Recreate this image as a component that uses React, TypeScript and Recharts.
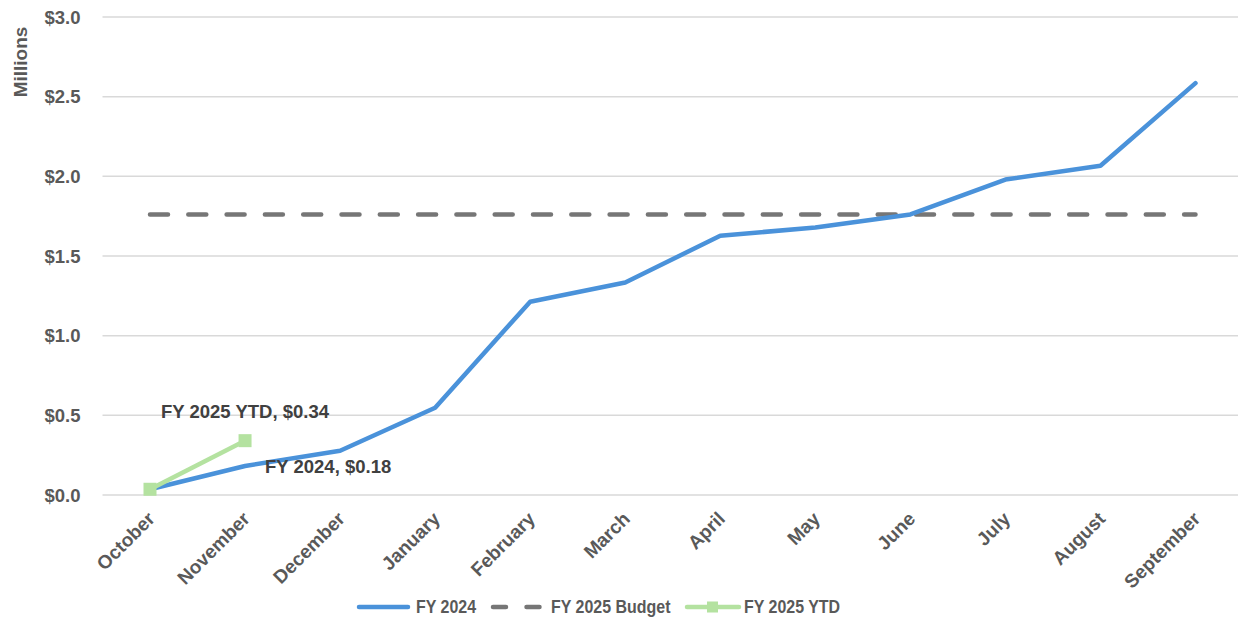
import React from "react";
import { LineChart, Line, XAxis, YAxis, CartesianGrid, Legend, LabelList } from "recharts";

const months = [
  "October", "November", "December", "January", "February", "March",
  "April", "May", "June", "July", "August", "September",
];
const fy2024 = [0.036, 0.182, 0.278, 0.548, 1.213, 1.334, 1.627, 1.679, 1.761, 1.98, 2.066, 2.585];
const fy2025Budget = [1.76, 1.76, 1.76, 1.76, 1.76, 1.76, 1.76, 1.76, 1.76, 1.76, 1.76, 1.76];
const fy2025Ytd: (number | null)[] = [0.036, 0.341, null, null, null, null, null, null, null, null, null, null];
const yTicks = [0, 0.5, 1, 1.5, 2, 2.5, 3];

const BLUE = "#4A92DA";
const GRAY = "#767676";
const GREEN = "#B4E2A0";
const TEXT = "#595959";
const FONT = "'Liberation Sans', Arial, sans-serif";

const data = months.map((m, i) => ({
  month: m,
  fy2024: fy2024[i],
  budget: fy2025Budget[i],
  ytd: fy2025Ytd[i],
}));

function MonthTick({ x, y, payload }: any) {
  const ax = x + 6;
  const ay = y + 23;
  return (
    <text
      x={ax}
      y={ay}
      textAnchor="end"
      transform={`rotate(-45, ${ax}, ${ay})`}
      fill={TEXT}
      fontFamily={FONT}
      fontWeight="bold"
      fontSize={19}
    >
      {payload.value}
    </text>
  );
}

function SquareDot({ cx, cy, index }: any) {
  if (cx == null || cy == null) return <g key={index} />;
  return <rect key={index} x={cx - 6.5} y={cy - 6.5} width={13} height={13} fill={GREEN} />;
}

function renderLegend() {
  // narrow look of the legend text: scale a normal bold font horizontally
  const text = (left: number, label: string) => (
    <span
      style={{
        position: "absolute",
        left,
        top: 0,
        lineHeight: "24px",
        whiteSpace: "nowrap",
        transform: "scaleX(0.84)",
        transformOrigin: "left center",
      }}
    >
      {label}
    </span>
  );
  const icon = (left: number, g: React.ReactNode) => (
    <svg width={60} height={24} style={{ position: "absolute", left, top: 0 }}>{g}</svg>
  );
  return (
    <div
      style={{
        position: "relative",
        height: 24,
        fontFamily: FONT,
        fontWeight: "bold",
        fontSize: 19,
        color: TEXT,
      }}
    >
      {icon(355, <line x1={4} y1={12} x2={53} y2={12} stroke={BLUE} strokeWidth={4.5} strokeLinecap="round" />)}
      {text(416, "FY 2024")}
      {icon(
        489,
        <line x1={4} y1={12} x2={52} y2={12} stroke={GRAY} strokeWidth={4.5} strokeLinecap="round" strokeDasharray="13 20.5" />,
      )}
      {text(551, "FY 2025 Budget")}
      {icon(
        683,
        <g>
          <line x1={4} y1={12} x2={56} y2={12} stroke={GREEN} strokeWidth={4.5} strokeLinecap="round" />
          <rect x={24} y={6.5} width={11} height={11} fill={GREEN} />
        </g>,
      )}
      {text(744, "FY 2025 YTD")}
    </div>
  );
}

export default function App() {
  return (
    <div style={{ position: "fixed", left: 0, top: 0, width: 1238, height: 621, overflow: "hidden", background: "#fff" }}>
      <LineChart width={1243} height={621} data={data} margin={{ top: 17, right: 0, left: 0, bottom: 2 }}>
        <CartesianGrid vertical={false} stroke="#D9D9D9" strokeWidth={1.5} />
        <XAxis
          dataKey="month"
          interval={0}
          axisLine={false}
          tickLine={false}
          tickSize={0}
          padding={{ left: 47.5, right: 47.5 }}
          height={100}
          tick={(props: any) => <MonthTick {...props} />}
        />
        <YAxis
          domain={[0, 3]}
          ticks={yTicks}
          width={102.5}
          axisLine={false}
          tickLine={false}
          tickSize={0}
          tickMargin={22}
          tickFormatter={(v: number) => `$${v.toFixed(1)}`}
          tick={{ fill: TEXT, fontFamily: FONT, fontWeight: "bold", fontSize: 18.5 }}
          label={{
            content: () => (
              <text
                x={27}
                y={62}
                textAnchor="middle"
                transform="rotate(-90, 27, 62)"
                fill={TEXT}
                fontFamily={FONT}
                fontWeight="bold"
                fontSize={19}
              >
                Millions
              </text>
            ),
          }}
        />
        <Legend verticalAlign="bottom" height={24} content={renderLegend} />
        <Line
          dataKey="budget"
          name="FY 2025 Budget"
          stroke={GRAY}
          strokeWidth={4.5}
          strokeLinecap="round"
          strokeDasharray="18 20.3"
          dot={false}
          isAnimationActive={false}
        />
        <Line
          dataKey="fy2024"
          name="FY 2024"
          stroke={BLUE}
          strokeWidth={4.5}
          strokeLinecap="round"
          strokeLinejoin="round"
          dot={false}
          isAnimationActive={false}
        >
          <LabelList
            dataKey="fy2024"
            content={(p: any) =>
              p.index === 1 ? (
                <text x={p.x + 20} y={p.y + 7} fill="#404040" fontFamily={FONT} fontWeight="bold" fontSize={18.5}>
                  {`FY 2024, $${Number(p.value).toFixed(2)}`}
                </text>
              ) : null
            }
          />
        </Line>
        <Line
          dataKey="ytd"
          name="FY 2025 YTD"
          stroke={GREEN}
          strokeWidth={4.5}
          strokeLinejoin="round"
          dot={<SquareDot />}
          isAnimationActive={false}
        >
          <LabelList
            dataKey="ytd"
            content={(p: any) =>
              p.index === 1 ? (
                <text x={p.x} y={p.y - 23} textAnchor="middle" fill="#404040" fontFamily={FONT} fontWeight="bold" fontSize={18.5}>
                  {`FY 2025 YTD, $${Number(p.value).toFixed(2)}`}
                </text>
              ) : null
            }
          />
        </Line>
      </LineChart>
    </div>
  );
}
